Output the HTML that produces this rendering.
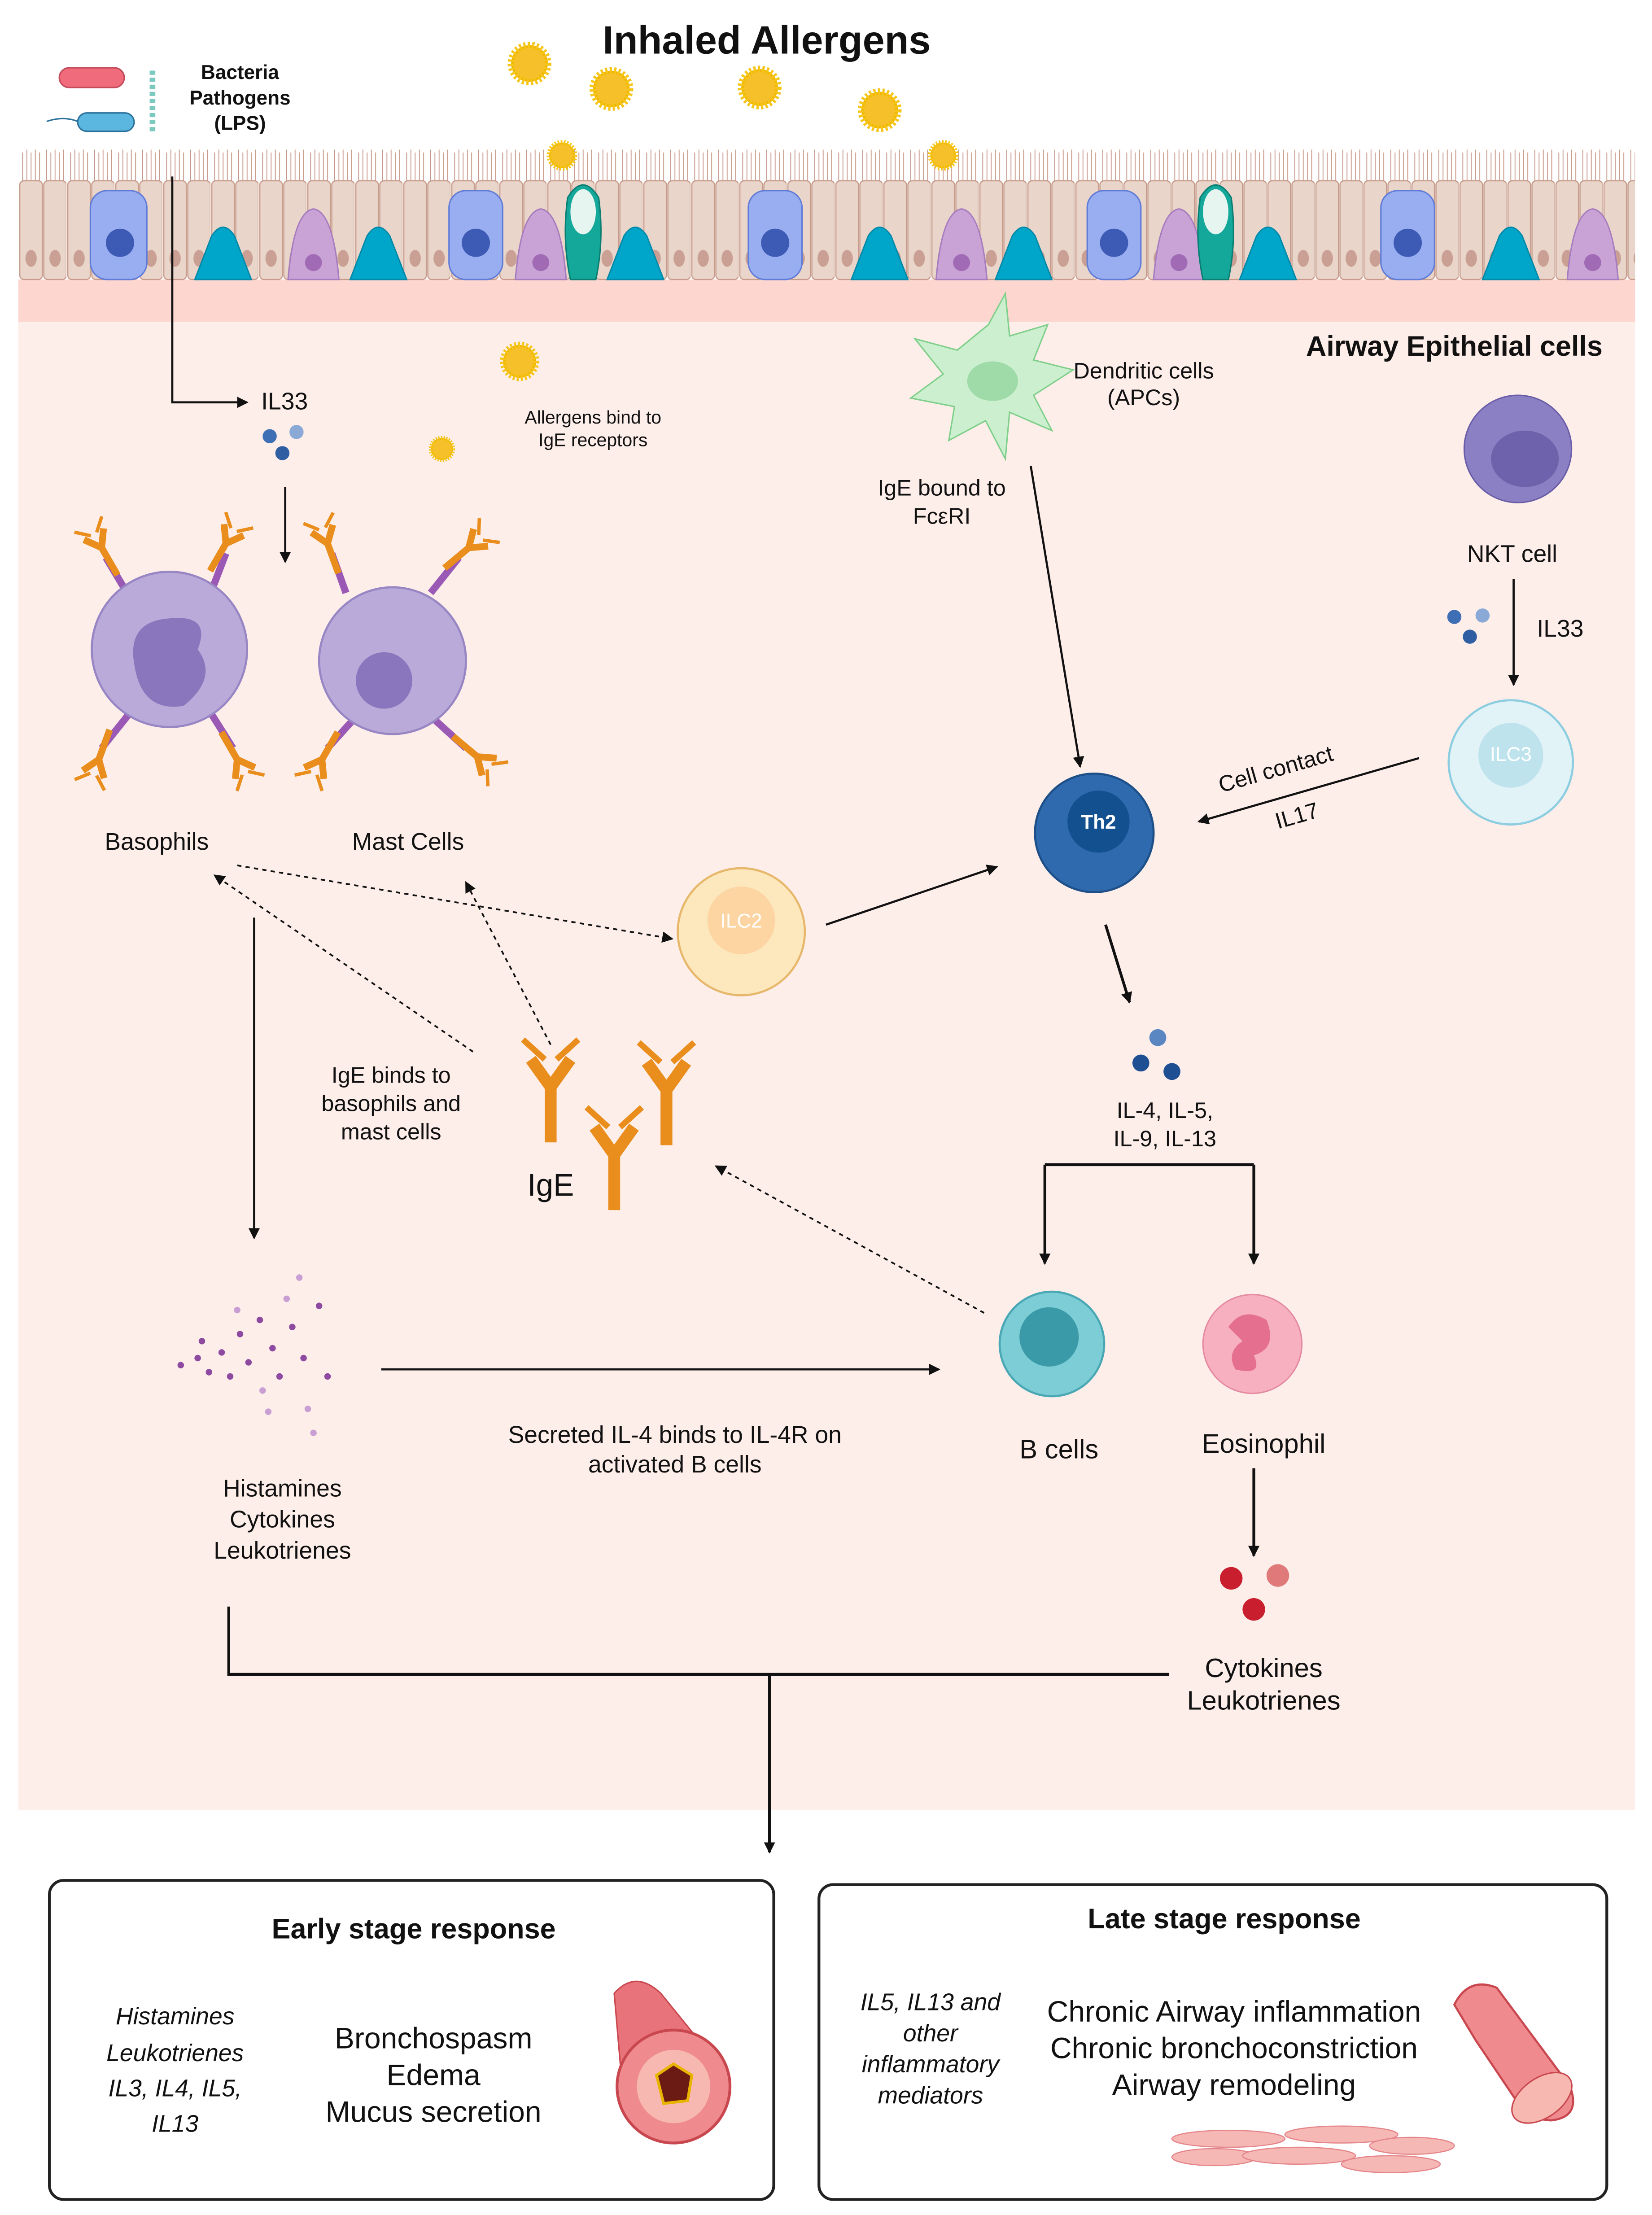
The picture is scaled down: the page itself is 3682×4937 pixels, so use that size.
<!DOCTYPE html>
<html><head><meta charset="utf-8"><style>html,body{margin:0;padding:0;background:#fff}svg{display:block}text{font-family:"Liberation Sans",sans-serif;fill:#111}</style></head><body>
<svg width="3682" height="4937" viewBox="0 0 1170 1569" preserveAspectRatio="none" xmlns="http://www.w3.org/2000/svg">
<defs>
<marker id="a" markerWidth="8" markerHeight="8" refX="7" refY="4" orient="auto" markerUnits="userSpaceOnUse"><path d="M0,0 L8,4 L0,8 Z" fill="#111"/></marker>
<pattern id="ep" x="13" y="0" width="34" height="240" patternUnits="userSpaceOnUse">
<rect x="1" y="128" width="16" height="70" rx="3" fill="#e9d5ca" stroke="#c79a8a" stroke-width="0.8"/>
<rect x="18" y="128" width="16" height="70" rx="3" fill="#e9d5ca" stroke="#c79a8a" stroke-width="0.8"/>
<ellipse cx="9" cy="183" rx="4" ry="6" fill="#c9a093"/><ellipse cx="26" cy="183" rx="4" ry="6" fill="#c9a093"/>
<path d="M3,128 V108 M6,128 V106 M9,128 V108 M12,128 V106 M15,128 V108 M20,128 V106 M23,128 V108 M26,128 V106 M29,128 V108 M32,128 V106" stroke="#c99a8c" stroke-width="0.6"/>
</pattern>
<g id="al"><circle r="13" fill="#f2b705" stroke="#f5c518" stroke-width="5" stroke-dasharray="1.5 1.5"/><circle r="11" fill="#f5c02a"/></g>
<g id="y"><path d="M0,0 V28 M0,0 L-10,-14 M0,0 L10,-14" stroke="#e98d1c" stroke-width="6" fill="none"/><path d="M-3,-14 L-14,-24 M3,-14 L14,-24" stroke="#e98d1c" stroke-width="3" fill="none"/></g>
</defs>
<rect x="13" y="200" width="1145" height="1082" fill="#fdeeea"/>
<rect x="13" y="198" width="1145" height="30" fill="#fdd6d0"/>
<rect x="13" y="100" width="1145" height="100" fill="url(#ep)"/>
<g>
<rect x="64" y="135" width="40" height="63" rx="12" fill="#98aef0" stroke="#5f7bd8"/><circle cx="85" cy="172" r="10" fill="#3d5ab5"/>
<rect x="318" y="135" width="38" height="63" rx="12" fill="#98aef0" stroke="#5f7bd8"/><circle cx="337" cy="172" r="10" fill="#3d5ab5"/>
<rect x="530" y="135" width="38" height="63" rx="12" fill="#98aef0" stroke="#5f7bd8"/><circle cx="549" cy="172" r="10" fill="#3d5ab5"/>
<rect x="770" y="135" width="38" height="63" rx="12" fill="#98aef0" stroke="#5f7bd8"/><circle cx="789" cy="172" r="10" fill="#3d5ab5"/>
<rect x="978" y="135" width="38" height="63" rx="12" fill="#98aef0" stroke="#5f7bd8"/><circle cx="997" cy="172" r="10" fill="#3d5ab5"/>
<path d="M138,198 L150,167 Q158,155 166,167 L178,198 Z" fill="#00a6c9" stroke="#0089a8"/>
<path d="M248,198 L260,167 Q268,155 276,167 L288,198 Z" fill="#00a6c9" stroke="#0089a8"/>
<path d="M430,198 L442,167 Q450,155 458,167 L470,198 Z" fill="#00a6c9" stroke="#0089a8"/>
<path d="M603,198 L615,167 Q623,155 631,167 L643,198 Z" fill="#00a6c9" stroke="#0089a8"/>
<path d="M705,198 L717,167 Q725,155 733,167 L745,198 Z" fill="#00a6c9" stroke="#0089a8"/>
<path d="M878,198 L890,167 Q898,155 906,167 L918,198 Z" fill="#00a6c9" stroke="#0089a8"/>
<path d="M1050,198 L1062,167 Q1070,155 1078,167 L1090,198 Z" fill="#00a6c9" stroke="#0089a8"/>
<path d="M204,198 Q208,150 222,148 Q236,150 240,198 Z" fill="#c9a3d6" stroke="#a67cbf"/><circle cx="222" cy="186" r="6" fill="#a06ab5"/>
<path d="M365,198 Q369,150 383,148 Q397,150 401,198 Z" fill="#c9a3d6" stroke="#a67cbf"/><circle cx="383" cy="186" r="6" fill="#a06ab5"/>
<path d="M663,198 Q667,150 681,148 Q695,150 699,198 Z" fill="#c9a3d6" stroke="#a67cbf"/><circle cx="681" cy="186" r="6" fill="#a06ab5"/>
<path d="M817,198 Q821,150 835,148 Q849,150 853,198 Z" fill="#c9a3d6" stroke="#a67cbf"/><circle cx="835" cy="186" r="6" fill="#a06ab5"/>
<path d="M1110,198 Q1114,150 1128,148 Q1142,150 1146,198 Z" fill="#c9a3d6" stroke="#a67cbf"/><circle cx="1128" cy="186" r="6" fill="#a06ab5"/>
<path d="M404,198 Q398,170 402,140 Q413,122 424,140 Q428,170 422,198 Z" fill="#14a89a" stroke="#0b7e73"/><ellipse cx="413" cy="150" rx="9" ry="16" fill="#e7f5f0"/>
<path d="M852,198 Q846,170 850,140 Q861,122 872,140 Q876,170 870,198 Z" fill="#14a89a" stroke="#0b7e73"/><ellipse cx="861" cy="150" rx="9" ry="16" fill="#e7f5f0"/>
</g>
<use href="#al" x="375" y="45"/><use href="#al" x="433" y="63"/><use href="#al" x="538" y="62"/><use href="#al" x="623" y="78"/>
<g transform="translate(398,110) scale(0.7)"><use href="#al"/></g><g transform="translate(668,110) scale(0.7)"><use href="#al"/></g>
<g transform="translate(368,256) scale(0.9)"><use href="#al"/></g><g transform="translate(313,318) scale(0.6)"><use href="#al"/></g>
<text x="543" y="38" font-size="28" font-weight="bold" text-anchor="middle">Inhaled Allergens</text>
<rect x="42" y="48" width="46" height="14" rx="7" fill="#f06b7c" stroke="#c24a5a"/>
<rect x="55" y="80" width="40" height="13" rx="6.5" fill="#5bb7e0" stroke="#2a6f9a"/><path d="M55,86 Q45,82 33,86" stroke="#2a6f9a" fill="none"/>
<path d="M108,50 V95" stroke="#7cc9c0" stroke-width="4" stroke-dasharray="3 2"/>
<text font-size="14" font-weight="bold" text-anchor="middle"><tspan x="170" y="56">Bacteria</tspan><tspan x="170" y="74">Pathogens</tspan><tspan x="170" y="92">(LPS)</tspan></text>
<path d="M122,125 V285 H175" stroke="#111" stroke-width="1.5" fill="none" marker-end="url(#a)"/>
<text x="185" y="290" font-size="17">IL33</text>
<circle cx="191" cy="309" r="5" fill="#3e6fb5"/><circle cx="210" cy="306" r="5" fill="#8aa9d6"/><circle cx="200" cy="321" r="5" fill="#2f5ea3"/>
<path d="M202,345 V398" stroke="#111" stroke-width="1.5" marker-end="url(#a)"/>
<text font-size="13" text-anchor="middle"><tspan x="420" y="300">Allergens bind to</tspan><tspan x="420" y="316">IgE receptors</tspan></text>
<g stroke="#9b59b6" stroke-width="5"><path d="M90,420 L75,395 M150,418 L160,392 M92,505 L72,530 M148,503 L165,530 M245,420 L235,392 M305,420 L325,395 M250,510 L232,530 M308,510 L330,530"/></g>
<g transform="translate(72,388)"><use href="#y" transform="rotate(-30) scale(0.8)"/></g>
<g transform="translate(160,385)"><use href="#y" transform="rotate(30) scale(0.8)"/></g>
<g transform="translate(70,538)"><use href="#y" transform="rotate(200) scale(0.8)"/></g>
<g transform="translate(168,538)"><use href="#y" transform="rotate(150) scale(0.8)"/></g>
<g transform="translate(232,385)"><use href="#y" transform="rotate(-20) scale(0.8)"/></g>
<g transform="translate(332,388)"><use href="#y" transform="rotate(50) scale(0.8)"/></g>
<g transform="translate(228,538)"><use href="#y" transform="rotate(210) scale(0.8)"/></g>
<g transform="translate(338,536)"><use href="#y" transform="rotate(130) scale(0.8)"/></g>
<circle cx="120" cy="460" r="55" fill="#b9aad9" stroke="#9886c4" stroke-width="1.5"/>
<path d="M95,470 Q90,440 120,438 Q150,435 140,460 Q155,480 130,500 Q100,505 95,470 Z" fill="#8a76bd"/>
<circle cx="278" cy="468" r="52" fill="#b9aad9" stroke="#9886c4" stroke-width="1.5"/>
<circle cx="272" cy="482" r="20" fill="#8a76bd"/>
<text x="111" y="602" font-size="17" text-anchor="middle">Basophils</text>
<text x="289" y="602" font-size="17" text-anchor="middle">Mast Cells</text>
<path d="M700,230 L712,208 L715,238 L742,230 L732,255 L760,262 L732,280 L745,305 L715,292 L712,325 L698,298 L672,312 L676,288 L645,282 L668,265 L648,240 L678,248 Z" fill="#ccf0cf" stroke="#7fcf8b"/>
<ellipse cx="703" cy="270" rx="18" ry="14" fill="#9fdba8"/>
<text font-size="16" text-anchor="middle"><tspan x="810" y="268">Dendritic cells</tspan><tspan x="810" y="287">(APCs)</tspan></text>
<text font-size="16" text-anchor="middle"><tspan x="667" y="351">IgE bound to</tspan><tspan x="667" y="371">FcεRI</tspan></text>
<text x="1030" y="252" font-size="20" font-weight="bold" text-anchor="middle">Airway Epithelial cells</text>
<circle cx="1075" cy="318" r="38" fill="#8c80c4" stroke="#6a5da8"/><ellipse cx="1080" cy="325" rx="24" ry="20" fill="#6f62ad"/>
<text x="1071" y="398" font-size="17" text-anchor="middle">NKT cell</text>
<circle cx="1030" cy="437" r="5" fill="#3e6fb5"/><circle cx="1050" cy="436" r="5" fill="#8aa9d6"/><circle cx="1041" cy="451" r="5" fill="#2f5ea3"/>
<text x="1105" y="451" font-size="17" text-anchor="middle">IL33</text>
<path d="M1072,410 V485" stroke="#111" stroke-width="1.5" marker-end="url(#a)"/>
<circle cx="1070" cy="540" r="44" fill="#e2f3f8" stroke="#8ccde0" stroke-width="1.5"/><circle cx="1070" cy="535" r="23" fill="#bfe3ec"/>
<text x="1070" y="539" font-size="14" text-anchor="middle" style="fill:#fff">ILC3</text>
<path d="M1005,537 L849,582" stroke="#111" stroke-width="1.5" marker-end="url(#a)"/>
<text x="905" y="550" font-size="16" text-anchor="middle" transform="rotate(-16 905 550)">Cell contact</text>
<text x="920" y="583" font-size="16" text-anchor="middle" transform="rotate(-16 920 583)">IL17</text>
<circle cx="775" cy="590" r="42" fill="#2e6aad" stroke="#1d4f88" stroke-width="1.5"/><circle cx="778" cy="582" r="22" fill="#13508f"/>
<text x="778" y="587" font-size="14" font-weight="bold" text-anchor="middle" style="fill:#fff">Th2</text>
<path d="M730,330 L765,543" stroke="#111" stroke-width="1.5" marker-end="url(#a)"/>
<circle cx="525" cy="660" r="45" fill="#fde8bd" stroke="#e7b86c" stroke-width="1.5"/><circle cx="525" cy="652" r="24" fill="#fcd5a2"/>
<text x="525" y="657" font-size="14" text-anchor="middle" style="fill:#fff">ILC2</text>
<path d="M585,655 L706,614" stroke="#111" stroke-width="1.5" marker-end="url(#a)"/>
<g stroke="#111" stroke-width="1.2" stroke-dasharray="3 3" fill="none">
<path d="M168,613 L476,665" marker-end="url(#a)"/>
<path d="M335,745 L152,620" marker-end="url(#a)"/>
<path d="M390,740 L330,625" marker-end="url(#a)"/>
<path d="M697,930 L507,826" marker-end="url(#a)"/>
</g>
<path d="M783,655 L800,710" stroke="#111" stroke-width="2" marker-end="url(#a)"/>
<circle cx="820" cy="735" r="6" fill="#5a86c2"/><circle cx="808" cy="753" r="6" fill="#1f4f93"/><circle cx="830" cy="759" r="6" fill="#1f4f93"/>
<text font-size="16" text-anchor="middle"><tspan x="825" y="792">IL-4, IL-5,</tspan><tspan x="825" y="812">IL-9, IL-13</tspan></text>
<path d="M740,825 H888" stroke="#111" stroke-width="2" fill="none"/>
<path d="M740,825 V895" stroke="#111" stroke-width="2" marker-end="url(#a)"/>
<path d="M888,825 V895" stroke="#111" stroke-width="2" marker-end="url(#a)"/>
<circle cx="745" cy="952" r="37" fill="#7dcdd6" stroke="#4aa8b5" stroke-width="1.5"/><circle cx="743" cy="947" r="21" fill="#3b9aa8"/>
<circle cx="887" cy="952" r="35" fill="#f7b0c0" stroke="#e58aa0"/><path d="M870,940 Q880,925 897,935 Q905,955 888,960 Q895,975 875,970 Q868,958 880,950 Z" fill="#e56f8f"/>
<text x="750" y="1033" font-size="19" text-anchor="middle">B cells</text>
<text x="895" y="1029" font-size="19" text-anchor="middle">Eosinophil</text>
<use href="#y" transform="translate(390,770) scale(1.4)"/>
<use href="#y" transform="translate(472,772) scale(1.4)"/>
<use href="#y" transform="translate(435,818) scale(1.4)"/>
<text x="390" y="847" font-size="22" text-anchor="middle">IgE</text>
<text font-size="16" text-anchor="middle"><tspan x="277" y="767">IgE binds to</tspan><tspan x="277" y="787">basophils and</tspan><tspan x="277" y="807">mast cells</tspan></text>
<path d="M180,650 V877" stroke="#111" stroke-width="1.5" marker-end="url(#a)"/>
<g fill="#8e4aa0">
<circle cx="128" cy="967" r="2.3"/><circle cx="140" cy="962" r="2.3"/><circle cx="148" cy="972" r="2.3"/><circle cx="157" cy="958" r="2.3"/><circle cx="163" cy="975" r="2.3"/><circle cx="170" cy="945" r="2.3"/><circle cx="176" cy="965" r="2.3"/><circle cx="184" cy="935" r="2.3"/><circle cx="186" cy="985" r="2.3" fill="#c89ed3"/><circle cx="193" cy="955" r="2.3"/><circle cx="198" cy="975" r="2.3"/><circle cx="203" cy="920" r="2.3" fill="#c89ed3"/><circle cx="207" cy="940" r="2.3"/><circle cx="212" cy="905" r="2.3" fill="#c89ed3"/><circle cx="215" cy="962" r="2.3"/><circle cx="218" cy="998" r="2.3" fill="#c89ed3"/><circle cx="226" cy="925" r="2.3"/><circle cx="232" cy="975" r="2.3"/><circle cx="222" cy="1015" r="2.3" fill="#c89ed3"/><circle cx="168" cy="928" r="2.3" fill="#c89ed3"/><circle cx="143" cy="950" r="2.3"/><circle cx="190" cy="1000" r="2.3" fill="#c89ed3"/>
</g>
<text font-size="17" text-anchor="middle"><tspan x="200" y="1060">Histamines</tspan><tspan x="200" y="1082">Cytokines</tspan><tspan x="200" y="1104">Leukotrienes</tspan></text>
<path d="M270,970 H665" stroke="#111" stroke-width="1.5" marker-end="url(#a)"/>
<text font-size="17" text-anchor="middle"><tspan x="478" y="1022">Secreted IL-4 binds to IL-4R on</tspan><tspan x="478" y="1043">activated B cells</tspan></text>
<path d="M888,1040 V1102" stroke="#111" stroke-width="2" marker-end="url(#a)"/>
<circle cx="872" cy="1118" r="8" fill="#c81e2e"/><circle cx="905" cy="1116" r="8" fill="#e07a7a"/><circle cx="888" cy="1140" r="8" fill="#c81e2e"/>
<text font-size="19" text-anchor="middle"><tspan x="895" y="1188">Cytokines</tspan><tspan x="895" y="1211">Leukotrienes</tspan></text>
<path d="M162,1138 V1186 H828" stroke="#111" stroke-width="2" fill="none"/>
<path d="M545,1186 V1312" stroke="#111" stroke-width="2" marker-end="url(#a)"/>
<rect x="35" y="1332" width="513" height="226" rx="10" fill="#fff" stroke="#222" stroke-width="2"/>
<rect x="580" y="1335" width="558" height="223" rx="10" fill="#fff" stroke="#222" stroke-width="2"/>
<text x="293" y="1373" font-size="20" font-weight="bold" text-anchor="middle">Early stage response</text>
<text font-size="17" font-style="italic" text-anchor="middle"><tspan x="124" y="1434">Histamines</tspan><tspan x="124" y="1460">Leukotrienes</tspan><tspan x="124" y="1485">IL3, IL4, IL5,</tspan><tspan x="124" y="1510">IL13</tspan></text>
<text font-size="21" text-anchor="middle"><tspan x="307" y="1451">Bronchospasm</tspan><tspan x="307" y="1477">Edema</tspan><tspan x="307" y="1503">Mucus secretion</tspan></text>
<path d="M435,1412 Q450,1395 468,1412 L515,1470 L440,1470 Z" fill="#e9737a" stroke="#c9484f"/>
<circle cx="477" cy="1478" r="40" fill="#ef8a8e" stroke="#c9484f" stroke-width="2"/><circle cx="477" cy="1478" r="26" fill="#f6b8b0"/>
<path d="M465,1470 L477,1462 L490,1470 L487,1488 L470,1490 Z" fill="#6b1a14" stroke="#e8b400" stroke-width="2"/>
<text x="867" y="1366" font-size="20" font-weight="bold" text-anchor="middle">Late stage response</text>
<text font-size="17" font-style="italic" text-anchor="middle"><tspan x="659" y="1424">IL5, IL13 and</tspan><tspan x="659" y="1446">other</tspan><tspan x="659" y="1468">inflammatory</tspan><tspan x="659" y="1490">mediators</tspan></text>
<text font-size="21" text-anchor="middle"><tspan x="874" y="1432">Chronic Airway inflammation</tspan><tspan x="874" y="1458">Chronic bronchoconstriction</tspan><tspan x="874" y="1484">Airway remodeling</tspan></text>
<path d="M1030,1420 Q1040,1400 1060,1408 L1112,1478 Q1120,1500 1098,1502 L1082,1500 L1045,1445 Z" fill="#ef8a8e" stroke="#c9484f" stroke-width="1.5"/>
<ellipse cx="1092" cy="1486" rx="24" ry="14" transform="rotate(-35 1092 1486)" fill="#f6b8b0" stroke="#c9484f"/>
<g fill="#f5b8b4" stroke="#e4858a" stroke-width="0.8">
<ellipse cx="870" cy="1515" rx="40" ry="6"/><ellipse cx="950" cy="1512" rx="40" ry="6"/><ellipse cx="1000" cy="1520" rx="30" ry="6"/><ellipse cx="860" cy="1528" rx="30" ry="6"/><ellipse cx="920" cy="1527" rx="40" ry="6"/><ellipse cx="985" cy="1533" rx="35" ry="6"/>
</g>
</svg>
</body></html>
